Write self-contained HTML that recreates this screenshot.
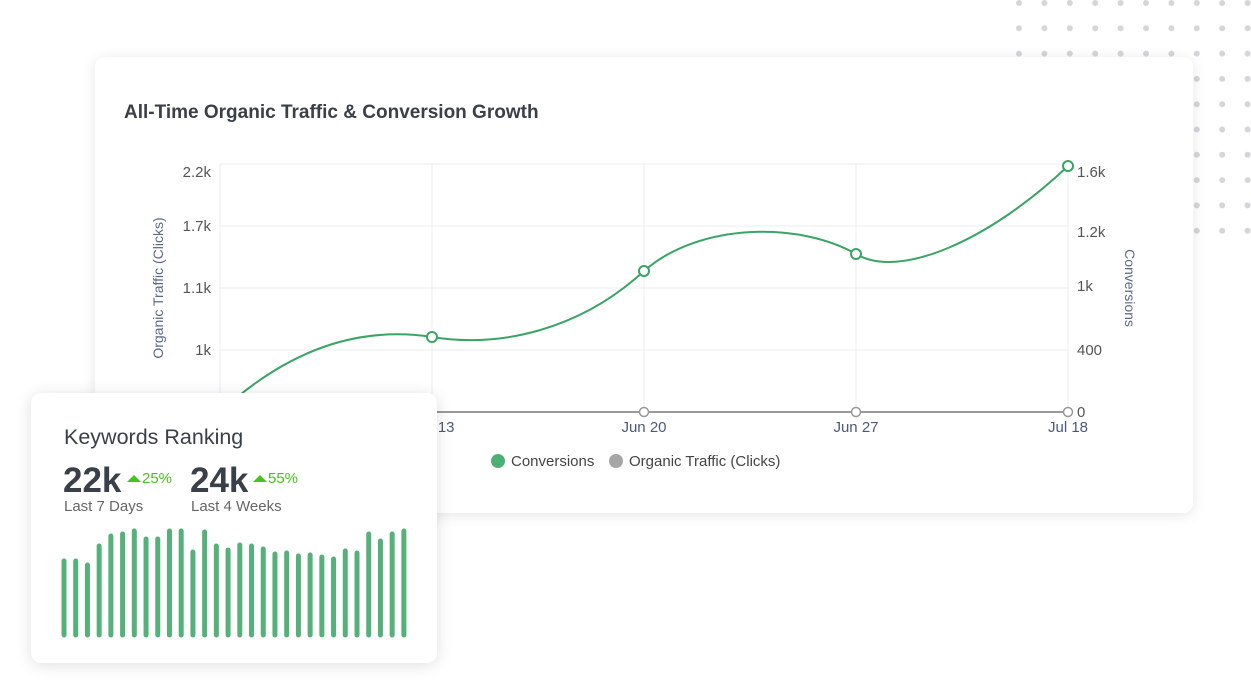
<!DOCTYPE html>
<html><head><style>
body{margin:0;width:1251px;height:691px;background:#fff;overflow:hidden;position:relative;font-family:"Liberation Sans",sans-serif}
.card{position:absolute;background:#fff;border-radius:10px}
</style></head><body>
<svg width="1251" height="691" style="position:absolute;left:0;top:0">
<g fill="#d6d6da" id="dots"></g>
</svg>
<div class="card" style="left:95px;top:57px;width:1098px;height:456px;box-shadow:0 2px 14px rgba(0,0,0,0.10)"></div>
<svg width="1251" height="691" style="position:absolute;left:0;top:0">
<text x="124" y="118" font-size="19" fill="#3a3f48" font-family="Liberation Sans" font-weight="bold">All-Time Organic Traffic &amp; Conversion Growth</text>
<g stroke="#e8edf3" stroke-width="1">
<line x1="220" y1="164" x2="1068" y2="164"/><line x1="220" y1="226" x2="1068" y2="226"/><line x1="220" y1="288" x2="1068" y2="288"/><line x1="220" y1="350" x2="1068" y2="350"/>
<line x1="220" y1="164" x2="220" y2="412"/><line x1="432" y1="164" x2="432" y2="412"/><line x1="644" y1="164" x2="644" y2="412"/><line x1="856" y1="164" x2="856" y2="412"/><line x1="1068" y1="164" x2="1068" y2="412"/>
</g>
<g font-size="15" fill="#555" font-family="Liberation Sans">
<text x="211" y="177" text-anchor="end">2.2k</text><text x="211" y="231" text-anchor="end">1.7k</text><text x="211" y="293" text-anchor="end">1.1k</text><text x="211" y="355" text-anchor="end">1k</text>
<text x="1077" y="177">1.6k</text><text x="1077" y="237">1.2k</text><text x="1077" y="291">1k</text><text x="1077" y="355">400</text><text x="1077" y="417">0</text>
</g>
<text transform="translate(163,288) rotate(-90)" text-anchor="middle" font-size="14" fill="#5a6a85">Organic Traffic (Clicks)</text>
<text transform="translate(1125,288) rotate(90)" text-anchor="middle" font-size="14" fill="#5a6a85">Conversions</text>
<g font-size="15" fill="#4a5a7a" text-anchor="middle"><text x="432" y="432">Jun 13</text><text x="644" y="432">Jun 20</text><text x="856" y="432">Jun 27</text><text x="1068" y="432">Jul 18</text></g>
<line x1="220" y1="412" x2="1068" y2="412" stroke="#999" stroke-width="2"/>
<g fill="#fff" stroke="#999" stroke-width="1.5"><circle cx="644" cy="412" r="4.5"/><circle cx="856" cy="412" r="4.5"/><circle cx="1068" cy="412" r="4.5"/></g>
<path d="M220,412 C290,348 360,326 432,337 C500,348 580,330 644,271 C700,222 800,222 856,254 C900,280 990,240 1068,166" fill="none" stroke="#3aa466" stroke-width="2"/>
<g fill="#fff" stroke="#3aa466" stroke-width="2"><circle cx="432" cy="337" r="5"/><circle cx="644" cy="271" r="5"/><circle cx="856" cy="254" r="5"/><circle cx="1068" cy="166" r="5"/></g>
<circle cx="498" cy="461" r="7" fill="#4caf74"/><text x="511" y="466" font-size="15" fill="#444">Conversions</text>
<circle cx="616" cy="461" r="7" fill="#a6a6a6"/><text x="629" y="466" font-size="15" fill="#444">Organic Traffic (Clicks)</text>
</svg>
<div class="card" style="left:31px;top:393px;width:406px;height:270px;box-shadow:0 2px 16px rgba(0,0,0,0.13)"></div>
<svg width="1251" height="691" style="position:absolute;left:0;top:0">
<text x="64" y="444" font-size="21.5" fill="#3a3f48">Keywords Ranking</text>
<text x="63" y="492" font-size="35" font-weight="bold" fill="#3a4049">22k</text>
<path d="M127,482 L134,475 L141,482Z" fill="#46c21e"/><text x="142" y="483" font-size="15" fill="#46c21e">25%</text>
<text x="190" y="492" font-size="35" font-weight="bold" fill="#3a4049">24k</text>
<path d="M253,482 L260,475 L267,482Z" fill="#46c21e"/><text x="268" y="483" font-size="15" fill="#46c21e">55%</text>
<text x="64" y="511" font-size="15" fill="#666">Last 7 Days</text>
<text x="191" y="511" font-size="15" fill="#666">Last 4 Weeks</text>
<g id="bars" stroke="#55b07a" stroke-width="5" stroke-linecap="round"></g>
</svg>
<script>
var d=document.getElementById('dots'),s='';
for(var r=0;r<10;r++)for(var c=0;c<10;c++){s+='<circle cx="'+(1019+c*25.4)+'" cy="'+(3+r*25.3)+'" r="3"/>';}
d.innerHTML=s;
var t=[559,559,563,544,534,532,529,537,537,529,529,550,530,544,548,543,544,547,552,551,554,553,555,557,549,551,532,539,532,529],b='';
for(var i=0;i<30;i++){var x=64+i*11.72;b+='<line x1="'+x+'" y1="'+(t[i]+2)+'" x2="'+x+'" y2="635"/>';}
document.getElementById('bars').innerHTML=b;
</script>
</body></html>
